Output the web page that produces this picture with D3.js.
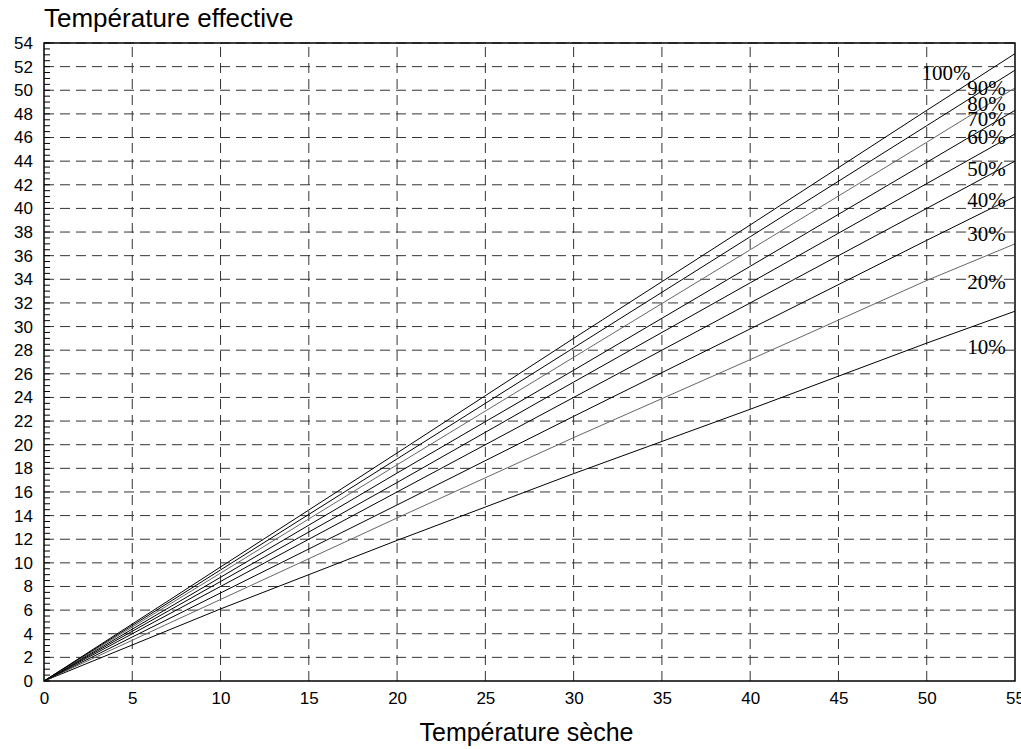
<!DOCTYPE html>
<html>
<head>
<meta charset="utf-8">
<script src="https://cdn.jsdelivr.net/npm/d3@7"></script>
<style>
  body { margin: 0; background: #fff; }
  text { font-family: "Liberation Sans", Arial, sans-serif; }
</style>
</head>
<body>
<script>
var xs = [0, 10, 20, 30, 40, 50, 55];

// effective temperature for each relative humidity curve
var rh10 = [0, 6.1, 11.9, 17.55, 23.0, 28.6, 31.3];
var rh20 = [0, 6.9, 13.8, 20.6, 27.2, 33.9, 37.0];
var rh30 = [0, 7.45, 14.9, 22.4, 29.8, 37.3, 41.0];
var rh40 = [0, 8.0, 16.0, 24.0, 32.0, 40.0, 44.0];
var rh50 = [0, 8.42, 16.8, 25.3, 33.7, 42.1, 46.3];
var rh60 = [0, 8.78, 17.6, 26.3, 35.1, 43.9, 48.3];
var rh70 = [0, 9.13, 18.3, 27.4, 36.5, 45.6, 50.2];
var rh80 = [0, 9.4, 18.8, 28.2, 37.6, 47.0, 51.7];
var rh90 = [0, 9.65, 19.3, 29.0, 38.6, 48.3, 53.1];

var curves = [rh10, rh20, rh30, rh40, rh50, rh60, rh70, rh80, rh90];
var curveGrey = [false, true, false, false, false, false, true, false, false];

// curve labels (text, x, y in data units)
var labelText = ["100%", "90%", "80%", "70%", "60%", "50%", "40%", "30%", "20%", "10%"];
var labelX = [49.7, 52.3, 52.3, 52.3, 52.3, 52.3, 52.3, 52.3, 52.3, 52.3];
var labelY = [51.5, 50.2, 48.9, 47.6, 46.1, 43.4, 40.7, 37.9, 33.8, 28.3];

var xTicks = d3.range(0, 56, 5);
var yTicks = d3.range(0, 55, 2);
var yMinor = d3.range(0, 54.01, 0.5);

var margin = {top: 43, right: 6, bottom: 68, left: 44};
var W = 1021, H = 749;
var width = W - margin.left - margin.right;
var height = H - margin.top - margin.bottom;

var svg = d3.select("body").append("svg")
    .attr("width", W)
    .attr("height", H);
var g = svg.append("g")
    .attr("transform", "translate(" + margin.left + "," + margin.top + ")");

var x = d3.scaleLinear().domain([0, 55]).range([0, width]);
var y = d3.scaleLinear().domain([0, 54]).range([height, 0]);

// grid
g.append("g").selectAll("line")
  .data(xTicks.slice(1, -1))
  .enter().append("line")
    .attr("x1", function(d) { return x(d); })
    .attr("x2", function(d) { return x(d); })
    .attr("y1", height)
    .attr("y2", 0)
    .attr("stroke", "#333")
    .attr("stroke-width", 1)
    .attr("stroke-dasharray", "10,6");

g.append("g").selectAll("line")
  .data(yTicks.slice(1))
  .enter().append("line")
    .attr("x1", 0)
    .attr("x2", width)
    .attr("y1", function(d) { return y(d); })
    .attr("y2", function(d) { return y(d); })
    .attr("stroke", "#333")
    .attr("stroke-width", 1)
    .attr("stroke-dasharray", "10,6");

// minor ticks on the left axis
g.append("g").selectAll("line")
  .data(yMinor)
  .enter().append("line")
    .attr("x1", 0)
    .attr("x2", 6)
    .attr("y1", function(d) { return y(d); })
    .attr("y2", function(d) { return y(d); })
    .attr("stroke", "#000")
    .attr("stroke-width", 1);

// curves
var line = d3.line()
  .x(function(d, i) { return x(xs[i]); })
  .y(function(d) { return y(d); });

g.append("g").selectAll("path")
  .data(curves)
  .enter().append("path")
    .attr("d", line)
    .attr("fill", "none")
    .attr("stroke", function(d, i) { return curveGrey[i] ? "#666" : "#000"; })
    .attr("stroke-width", 1);

g.append("g").selectAll("text")
  .data(labelText)
  .enter().append("text")
    .attr("x", function(d, i) { return x(labelX[i]); })
    .attr("y", function(d, i) { return y(labelY[i]); })
    .attr("dy", "0.35em")
    .style("font-family", "'Liberation Serif', 'Times New Roman', serif")
    .style("font-size", "21px")
    .text(function(d) { return d; });

// frame
g.append("rect")
  .attr("width", width)
  .attr("height", height)
  .attr("fill", "none")
  .attr("stroke", "#000")
  .attr("stroke-width", 1.5);

// axes labels
var xAxis = d3.axisBottom(x).tickValues(xTicks).tickSize(0).tickPadding(11);
g.append("g")
  .attr("transform", "translate(0," + height + ")")
  .call(xAxis)
  .call(function(s) { s.select(".domain").remove(); })
  .selectAll("text")
    .style("font-family", "'Liberation Sans', Arial, sans-serif")
    .style("font-size", "17px")
    .attr("fill", "#000");

var yAxis = d3.axisLeft(y).tickValues(yTicks).tickSize(0).tickPadding(11);
g.append("g")
  .call(yAxis)
  .call(function(s) { s.select(".domain").remove(); })
  .selectAll("text")
    .style("font-family", "'Liberation Sans', Arial, sans-serif")
    .style("font-size", "17px")
    .attr("fill", "#000");

svg.append("text")
  .attr("x", 44)
  .attr("y", 27)
  .style("font-size", "26px")
  .text("Température effective");

svg.append("text")
  .attr("x", margin.left + width / 2 - 3)
  .attr("y", 741)
  .attr("text-anchor", "middle")
  .style("font-size", "25px")
  .text("Température sèche");
</script>
</body>
</html>
